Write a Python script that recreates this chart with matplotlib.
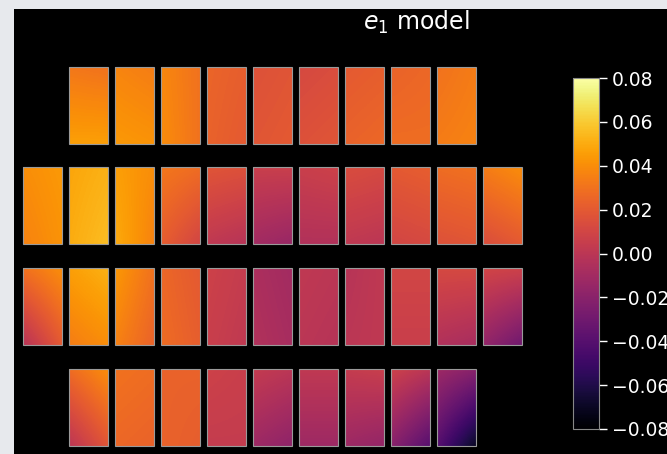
import numpy as np
import matplotlib
matplotlib.use("Agg")
import matplotlib.pyplot as plt
from matplotlib.patches import Rectangle
from matplotlib.colors import Normalize

# e1 model per CCD, corner values [top-left, top-right, bottom-left, bottom-right]
row1 = [
    [0.032, 0.030, 0.046, 0.046],
    [0.037, 0.034, 0.044, 0.042],
    [0.038, 0.030, 0.040, 0.030],
    [0.025, 0.022, 0.024, 0.020],
    [0.016, 0.018, 0.018, 0.020],
    [0.012, 0.014, 0.016, 0.018],
    [0.020, 0.022, 0.024, 0.026],
    [0.024, 0.026, 0.028, 0.028],
    [0.030, 0.034, 0.034, 0.036],
]
row2 = [
    [0.040, 0.044, 0.036, 0.042],
    [0.048, 0.052, 0.050, 0.056],
    [0.046, 0.040, 0.050, 0.036],
    [0.032, 0.028, 0.022, 0.010],
    [0.018, 0.016, 0.002, -0.002],
    [0.006, 0.006, -0.010, -0.014],
    [0.006, 0.008, -0.004, -0.004],
    [0.014, 0.012, 0.002, 0.000],
    [0.020, 0.022, 0.010, 0.012],
    [0.028, 0.030, 0.016, 0.018],
    [0.034, 0.040, 0.014, 0.020],
]
row3 = [
    [0.030, 0.040, -0.002, 0.020],
    [0.046, 0.052, 0.034, 0.040],
    [0.044, 0.030, 0.036, 0.024],
    [0.026, 0.020, 0.028, 0.022],
    [0.008, 0.004, 0.006, 0.002],
    [-0.006, -0.010, -0.004, -0.008],
    [0.002, 0.000, 0.000, -0.002],
    [-0.002, 0.002, 0.000, 0.002],
    [0.010, 0.010, 0.006, 0.006],
    [0.012, 0.012, -0.004, -0.008],
    [0.010, 0.008, -0.016, -0.030],
]
row4 = [
    [0.028, 0.040, 0.000, 0.018],
    [0.030, 0.028, 0.026, 0.024],
    [0.024, 0.024, 0.024, 0.022],
    [0.008, 0.006, 0.004, 0.004],
    [0.004, 0.000, -0.012, -0.018],
    [0.002, 0.002, -0.012, -0.012],
    [0.004, 0.006, -0.012, -0.016],
    [0.008, 0.000, -0.020, -0.040],
    [-0.012, -0.020, -0.040, -0.070],
]
rows = [row1, row2, row3, row4]
first_col = [1, 0, 0, 1]
cbar_ticks = [-0.08, -0.06, -0.04, -0.02, 0.00, 0.02, 0.04, 0.06, 0.08]

W, H = 667, 454
fig = plt.figure(figsize=(W / 100, H / 100), dpi=100, facecolor="#e7e9ed")
ax = fig.add_axes([14 / W, 0, 1 - 14 / W, 1 - 9 / H])
ax.set_facecolor("black")
ax.set_xlim(14, W)
ax.set_ylim(H, 9)
ax.set_xticks([])
ax.set_yticks([])
for s in ax.spines.values():
    s.set_visible(False)

norm = Normalize(vmin=-0.08, vmax=0.08)
cmap = plt.get_cmap("inferno")

ccd_w, ccd_h, pitch = 39, 77, 46
row_top = [67, 167, 268, 369]
img = None
for r, ccds in enumerate(rows):
    y0 = row_top[r]
    y1 = y0 + ccd_h
    for i, c in enumerate(ccds):
        x0 = 23 + pitch * (first_col[r] + i)
        x1 = x0 + ccd_w
        C = np.array([[c[0], c[1]], [c[2], c[3]]])
        # 2x2 image whose pixel centres sit on the CCD corners, clipped to the CCD
        ext = (x0 - ccd_w / 2, x1 + ccd_w / 2, y1 + ccd_h / 2, y0 - ccd_h / 2)
        img = ax.imshow(C, cmap=cmap, norm=norm, extent=ext, origin="upper",
                        interpolation="bilinear", aspect="auto")
        frame = Rectangle((x0, y0), ccd_w, ccd_h, fill=False,
                          edgecolor="#9a9a9a", linewidth=0.8)
        ax.add_patch(frame)
        img.set_clip_path(frame)

ax.set_xlim(14, W)
ax.set_ylim(H, 9)

ax.text(416, 22, r"$e_1$ model", color="white", fontsize=17,
        ha="center", va="center")

cax = fig.add_axes([573 / W, (H - 429) / H, 26 / W, 351 / H])
cb = fig.colorbar(img, cax=cax, ticks=cbar_ticks)
cb.ax.set_yticklabels([f"{t:.2f}".replace("-", "\u2212") for t in cbar_ticks])
cb.outline.set_edgecolor("#888888")
cb.ax.tick_params(colors="white", labelcolor="white", labelsize=13.5,
                  length=6, width=1)

fig.savefig("out.png", dpi=100, facecolor=fig.get_facecolor())
